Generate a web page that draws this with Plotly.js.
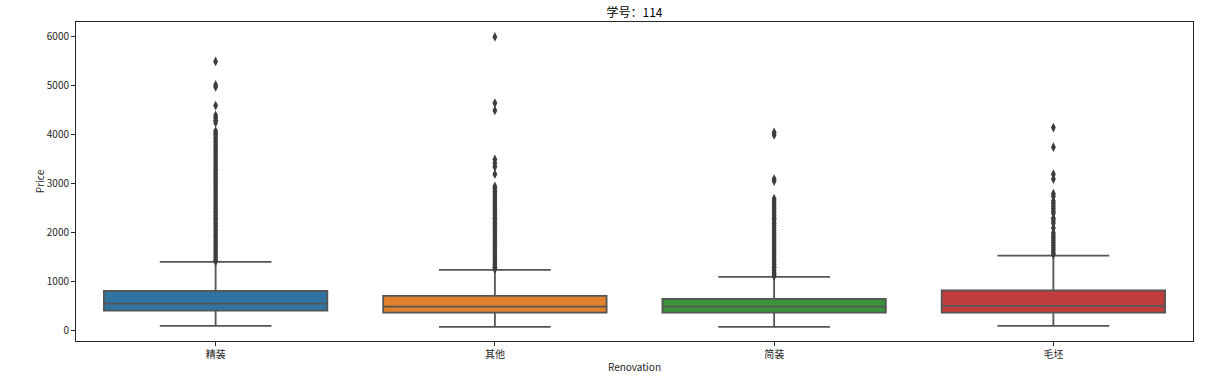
<!DOCTYPE html>
<html>
<head>
<meta charset="utf-8">
<script src="https://cdn.plot.ly/plotly-3.0.1.min.js"></script>
<style>html,body{margin:0;padding:0;background:#fff;}#chart{width:1232px;height:378px;}</style>
</head>
<body>
<div id="chart"></div>
<script>
// Categories
const categories = ['精装', '其他', '简装', '毛坯'];
// Box statistics
const q1 = [414, 373, 373, 373];
const median = [557, 496, 496, 510];
const q3 = [816, 714, 653, 830];
const lowerWhisker = [102, 82, 82, 102];
const upperWhisker = [1408, 1245, 1102, 1537];
// Outliers per category
const outliersJingzhuang = [5500, 5020, 4980, 4600, 4400, 4350, 4300, 4250, 4080, 4040, 4000, 3950, 3900, 3850, 3800, 3750, 3700, 3650, 3600, 3550, 3500, 3450, 3400, 3350, 3300, 3250, 3200, 3150, 3100, 3050, 3000, 2950, 2900, 2850, 2800, 2750, 2700, 2650, 2600, 2550, 2500, 2450, 2400, 2350, 2300, 2250, 2200, 2150, 2100, 2050, 2000, 1950, 1900, 1850, 1800, 1750, 1700, 1650, 1600, 1550, 1500, 1450, 1420];
const outliersQita = [6000, 4650, 4500, 3500, 3420, 3350, 3200, 2950, 2900, 2850, 2800, 2750, 2700, 2650, 2600, 2550, 2500, 2450, 2400, 2350, 2300, 2250, 2200, 2150, 2100, 2050, 2000, 1950, 1900, 1850, 1800, 1750, 1700, 1650, 1600, 1550, 1500, 1450, 1400, 1350, 1300, 1260];
const outliersJianzhuang = [4050, 4000, 3100, 3060, 2700, 2650, 2600, 2550, 2500, 2450, 2400, 2350, 2300, 2250, 2200, 2150, 2100, 2050, 2000, 1950, 1900, 1850, 1800, 1750, 1700, 1650, 1600, 1550, 1500, 1450, 1400, 1350, 1300, 1250, 1200, 1150, 1120];
const outliersMaopi = [4150, 3750, 3200, 3100, 2800, 2750, 2650, 2600, 2550, 2500, 2450, 2400, 2300, 2250, 2200, 2100, 2000, 1950, 1900, 1850, 1800, 1750, 1700, 1650, 1600, 1560];
const outlierLists = [outliersJingzhuang, outliersQita, outliersJianzhuang, outliersMaopi];
const colors = ['#3274a1', '#e1812c', '#3a923a', '#c03d3e'];
const yTicks = [0, 1000, 2000, 3000, 4000, 5000, 6000];

const lineColor = '#555555';
const traces = [];
categories.forEach((c, i) => {
  traces.push({
    type: 'box',
    x: [c],
    q1: [q1[i]], median: [median[i]], q3: [q3[i]],
    lowerfence: [lowerWhisker[i]], upperfence: [upperWhisker[i]],
    fillcolor: colors[i],
    line: {color: lineColor, width: 1.8},
    width: 0.8,
    whiskerwidth: 0.5,
    boxpoints: false,
    showlegend: false,
    hoverinfo: 'skip'
  });
  traces.push({
    type: 'scatter', mode: 'markers',
    x: outlierLists[i].map(() => c),
    y: outlierLists[i],
    marker: {symbol: 'diamond-tall', size: 7, color: '#3d3d3d', line: {width: 0}},
    showlegend: false,
    hoverinfo: 'skip'
  });
});

const font = 'Noto Sans CJK SC, DejaVu Sans, sans-serif';
const layout = {
  width: 1232, height: 378,
  margin: {l: 76, r: 39, t: 22, b: 37},
  paper_bgcolor: '#fff', plot_bgcolor: '#fff',
  font: {family: font, size: 10, color: '#262626'},
  boxmode: 'overlay',
  title: {text: '学号：114', font: {size: 12, color: '#000'}, x: 0.5, xref: 'paper', y: 1 - 13/378, yref: 'container', yanchor: 'middle'},
  xaxis: {
    type: 'category', categoryorder: 'array', categoryarray: categories,
    range: [-0.5, 3.5], showgrid: false, zeroline: false,
    showline: true, mirror: true, linecolor: '#262626', linewidth: 1,
    ticks: 'outside', ticklen: 4, tickcolor: '#262626',
    tickfont: {size: 10, color: '#262626'},
    title: {text: 'Renovation', font: {size: 10, color: '#262626'}, standoff: 3},
    automargin: false
  },
  yaxis: {
    range: [-205, 6305], tickvals: yTicks, ticktext: yTicks.map(String),
    showgrid: false, zeroline: false,
    showline: true, mirror: true, linecolor: '#262626', linewidth: 1,
    ticks: 'outside', ticklen: 4, tickcolor: '#262626',
    tickfont: {size: 10, color: '#262626'},
    title: {text: 'Price', font: {size: 10, color: '#262626'}, standoff: 0},
    automargin: false
  }
};
Plotly.newPlot('chart', traces, layout, {displayModeBar: false, staticPlot: true});
</script>
</body>
</html>
